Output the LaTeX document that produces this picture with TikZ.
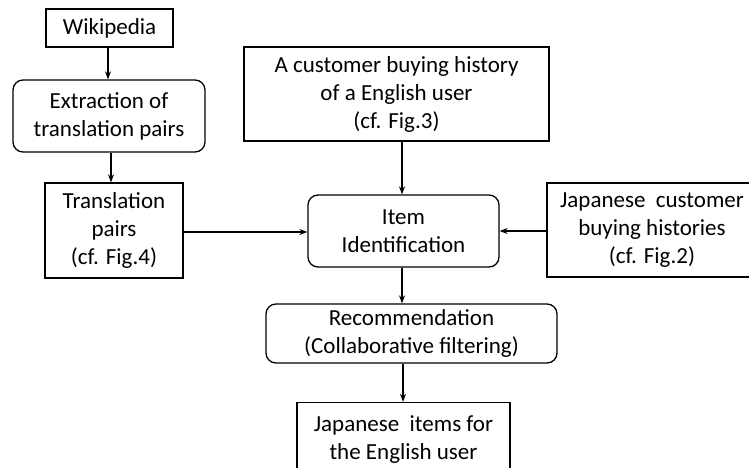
\documentclass[tikz,border=0pt]{standalone}
\usepackage{fontspec}
\setmainfont{Carlito}
\usetikzlibrary{arrows.meta}
\begin{document}
\begin{tikzpicture}[x=1pt,y=-1pt,
  every node/.style={font=\fontsize{23}{28}\selectfont, align=center, inner sep=0pt},
  sqbox/.style={draw, line width=1.3pt, minimum width=#1},
  rbox/.style={draw, line width=1.3pt, rounded corners=10pt},
  arr/.style={-{Stealth[length=8pt,width=6pt]}, line width=1.2pt}]
\useasboundingbox (0,0) rectangle (749,468);
\clip (0,0) rectangle (749,468);

\node[sqbox=127pt, minimum height=38pt] (wiki) at (109.5,28) {Wikipedia};
\node[rbox, minimum width=192pt, minimum height=72pt] (extr) at (109,116) {Extraction of\\translation pairs};
\node[sqbox=138pt, minimum height=95pt] (trans) at (114,230.5) {Translation\\pairs\\(cf. Fig.4)};
\node[sqbox=305pt, minimum height=94pt] (cust) at (396.5,94) {A customer buying history\\of a English user\\(cf. Fig.3)};
\node[rbox, minimum width=191pt, minimum height=72pt] (item) at (403.5,231) {Item\\Identification};
\node[sqbox=210pt, minimum height=94pt] (jap) at (652,230) {Japanese~ customer\\buying histories\\(cf. Fig.2)};
\node[rbox, minimum width=291pt, minimum height=59pt] (rec) at (411.5,333.5) {Recommendation\\(Collaborative filtering)};
\node[sqbox=213pt, minimum height=75pt] (final) at (403.5,440) {Japanese~ items for\\the English user};

\draw[arr] (wiki.south -| 108,0) -- (extr.north -| 108,0);
\draw[arr] (extr.south -| 111,0) -- (trans.north -| 111,0);
\draw[arr] (trans.east |- 0,232) -- (item.west |- 0,232);
\draw[arr] (cust.south -| 402,0) -- (item.north -| 402,0);
\draw[arr] (jap.west |- 0,231) -- (item.east |- 0,231);
\draw[arr] (item.south -| 402,0) -- (rec.north -| 402,0);
\draw[arr] (rec.south -| 403,0) -- (final.north -| 403,0);
\end{tikzpicture}
\end{document}
